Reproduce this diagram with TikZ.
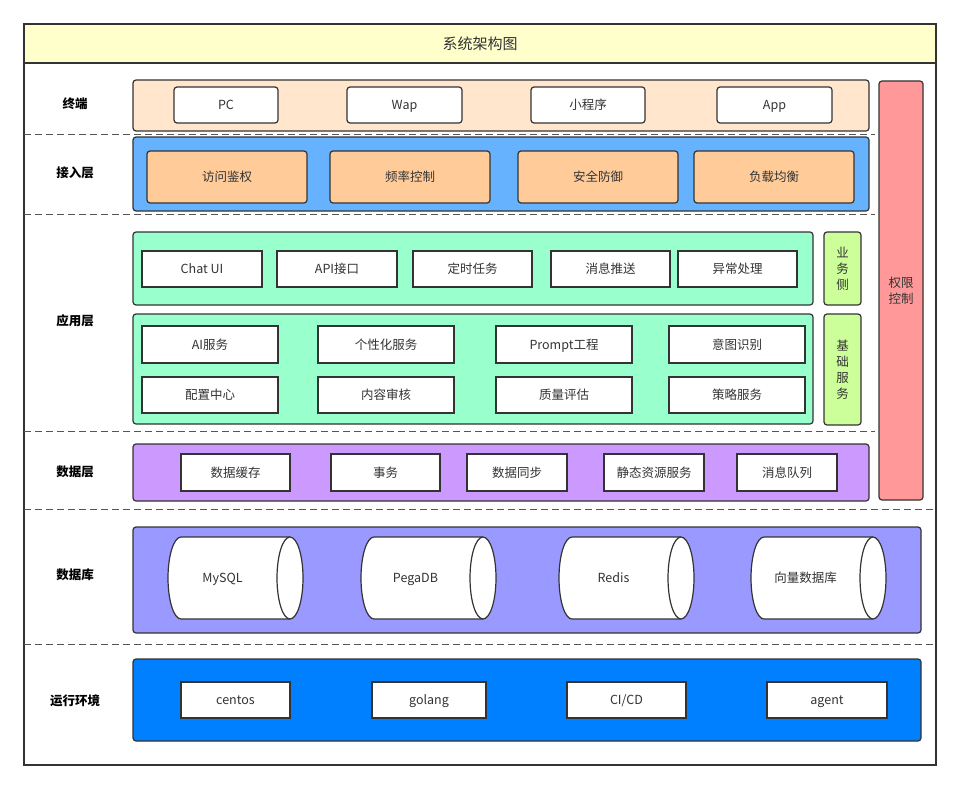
\documentclass[tikz,border=0pt]{standalone}
\usepackage{fontspec}
\setmainfont{Noto Sans CJK SC}
\definecolor{linec}{HTML}{333333}
\definecolor{txtc}{HTML}{333333}
\definecolor{sepc}{HTML}{555555}
\definecolor{titlec}{HTML}{FFFFCC}
\definecolor{termc}{HTML}{FFE6CC}
\definecolor{accc}{HTML}{66B2FF}
\definecolor{accbox}{HTML}{FFCC99}
\definecolor{appc}{HTML}{99FFCC}
\definecolor{sidec}{HTML}{CCFF99}
\definecolor{permc}{HTML}{FF9999}
\definecolor{datac}{HTML}{CC99FF}
\definecolor{dbc}{HTML}{9999FF}
\definecolor{runc}{HTML}{007FFF}
\newcommand\Bx[7]{\node[#1, anchor=north west, minimum width=#5pt-#3pt, minimum height=#6pt-#4pt] (#2) at (#3,#4) {#7};}
\newcommand\Cyl[6]{%
  \filldraw[cyl] (#4-13,#3) -- (#2+13,#3) arc[start angle=90, end angle=270, x radius=13pt, y radius=#5pt/2-#3pt/2] -- (#4-13,#5);
  \filldraw[cyl] (#4-13,#3/2+#5/2) ellipse[x radius=13pt, y radius=#5pt/2-#3pt/2];
  \node[font=\fontsize{12.5}{15}\selectfont, text=txtc, text height=10pt, text depth=1pt] (#1) at (#2/2+#4/2-13,#3/2+#5/2) {#6};}
\begin{document}
\begin{tikzpicture}[x=1pt,y=-1pt,
  panel/.style={draw=linec, line width=1.2pt, rounded corners=3pt, inner sep=0pt, outer sep=0pt},
  box/.style={draw=linec, fill=white, line width=1.2pt, inner sep=0pt, outer sep=0pt, text=txtc, font=\fontsize{12.5}{15}\selectfont, text height=10pt, text depth=1pt},
  rbox/.style={box, rounded corners=3pt},
  vbox/.style={draw=linec, line width=1.2pt, inner sep=0pt, outer sep=0pt, text=txtc, rounded corners=3pt, align=center, font=\fontsize{12.5}{16}\selectfont},
  lab/.style={font=\bfseries\fontsize{12.5}{15}\selectfont, text=black, text height=10pt, text depth=1pt},
  sep/.style={draw=sepc, line width=1pt, dash pattern=on 7pt off 4pt},
  cyl/.style={draw=linec, fill=white, line width=1.2pt}]
\useasboundingbox (0,0) rectangle (960,789);
% frame and title
\fill[white] (24,24) rectangle (936,765);
\filldraw[fill=titlec, draw=linec, line width=1.2pt] (24,24) rectangle (936,63);
\node[font=\fontsize{15}{18}\selectfont, text=txtc, text height=12pt, text depth=1.5pt] (title) at (480,44) {系统架构图};
\draw[draw=linec, line width=1.2pt] (24,24) rectangle (936,765);
% separators
\draw[sep] (24,134) -- (875,134);
\draw[sep] (24,214) -- (875,214);
\draw[sep] (24,431) -- (875,431);
\draw[sep] (24,509) -- (936,509);
\draw[sep] (24,644) -- (936,644);
% labels
\node[lab] (l1) at (75,104) {终端};
\node[lab] (l2) at (75,173) {接入层};
\node[lab] (l3) at (75,321) {应用层};
\node[lab] (l4) at (75,472) {数据层};
\node[lab] (l5) at (75,575) {数据库};
\node[lab] (l6) at (75,701) {运行环境};
% terminal
\Bx{panel, fill=termc}{term}{133}{80}{869}{131}{}
\Bx{rbox}{pc}{174}{87}{278}{123}{PC}
\Bx{rbox}{wap}{347}{87}{462}{123}{Wap}
\Bx{rbox}{mini}{531}{87}{645}{123}{小程序}
\Bx{rbox}{app}{717}{87}{832}{123}{App}
% access
\Bx{panel, fill=accc}{acc}{133}{137}{869}{211}{}
\Bx{rbox, fill=accbox}{auth}{147}{151}{307}{203}{访问鉴权}
\Bx{rbox, fill=accbox}{rate}{330}{151}{490}{203}{频率控制}
\Bx{rbox, fill=accbox}{sec}{518}{151}{678}{203}{安全防御}
\Bx{rbox, fill=accbox}{lb}{694}{151}{854}{203}{负载均衡}
% application top
\Bx{panel, fill=appc}{apptop}{133}{232}{813}{305}{}
\Bx{box}{chat}{142}{251}{262}{287}{Chat UI}
\Bx{box}{api}{277}{251}{397}{287}{API接口}
\Bx{box}{cron}{413}{251}{532}{287}{定时任务}
\Bx{box}{push}{551}{251}{670}{287}{消息推送}
\Bx{box}{exc}{678}{251}{797}{287}{异常处理}
% application bottom
\Bx{panel, fill=appc}{appbot}{133}{314}{813}{424}{}
\Bx{box}{ai}{142}{326}{278}{363}{AI服务}
\Bx{box}{pers}{318}{326}{454}{363}{个性化服务}
\Bx{box}{prompt}{496}{326}{632}{363}{Prompt工程}
\Bx{box}{intent}{669}{326}{805}{363}{意图识别}
\Bx{box}{conf}{142}{377}{278}{413}{配置中心}
\Bx{box}{audit}{318}{377}{454}{413}{内容审核}
\Bx{box}{qual}{496}{377}{632}{413}{质量评估}
\Bx{box}{strat}{669}{377}{805}{413}{策略服务}
% side
\Bx{vbox, fill=sidec}{biz}{824}{232}{861}{305}{业\\务\\侧}
\Bx{vbox, fill=sidec}{base}{824}{314}{861}{425}{基\\础\\服\\务}
\Bx{vbox, fill=permc}{perm}{879}{81}{923}{500}{权限\\控制}
% data layer
\Bx{panel, fill=datac}{data}{133}{444}{869}{501}{}
\Bx{box}{cache}{181}{454}{290}{491}{数据缓存}
\Bx{box}{tx}{331}{454}{440}{491}{事务}
\Bx{box}{sync}{467}{454}{567}{491}{数据同步}
\Bx{box}{static}{604}{454}{704}{491}{静态资源服务}
\Bx{box}{mq}{737}{454}{837}{491}{消息队列}
% database
\Bx{panel, fill=dbc}{db}{133}{527}{921}{633}{}
\Cyl{mysql}{168}{537}{303}{619}{MySQL}
\Cyl{pega}{361}{537}{496}{619}{PegaDB}
\Cyl{redis}{559}{537}{694}{619}{Redis}
\Cyl{vec}{751}{537}{886}{619}{向量数据库}
% runtime
\Bx{panel, fill=runc}{run}{133}{659}{921}{741}{}
\Bx{box}{centos}{181}{682}{290}{718}{centos}
\Bx{box}{golang}{372}{682}{486}{718}{golang}
\Bx{box}{cicd}{567}{682}{686}{718}{CI/CD}
\Bx{box}{agent}{767}{682}{887}{718}{agent}
\end{tikzpicture}
\end{document}
